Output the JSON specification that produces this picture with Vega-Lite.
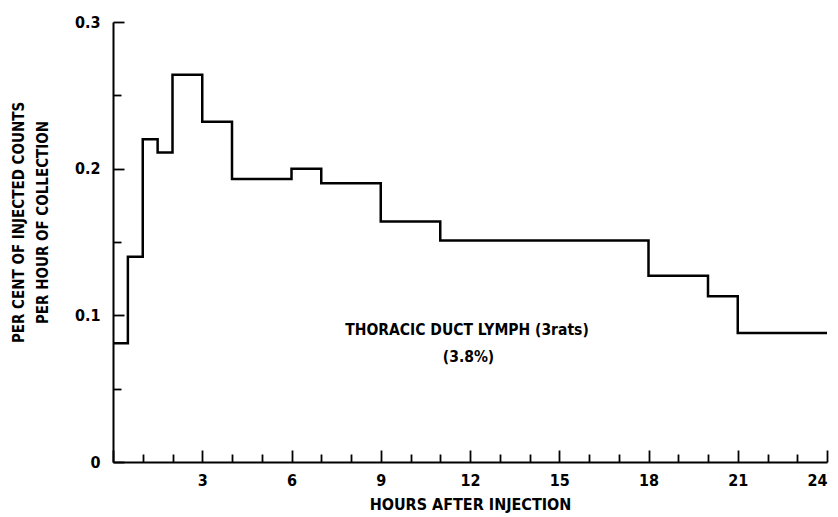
{
  "$schema": "https://vega.github.io/schema/vega-lite/v6.json",
  "width": 714,
  "height": 440,
  "autosize": {"type": "none"},
  "padding": {"left": 113, "top": 22, "right": 11, "bottom": 55},
  "background": "white",
  "config": {
    "view": {"stroke": null},
    "font": "DejaVu Sans Condensed",
    "axis": {"grid": false, "domainColor": "black", "domainWidth": 2, "tickColor": "black", "tickWidth": 1.8, "labelColor": "black", "titleColor": "black", "labelFont": "DejaVu Sans Condensed", "titleFont": "DejaVu Sans Condensed", "labelOverlap": false, "labelBound": false}
  },
  "datasets": {
    "lymph": [
      {"hour": 0, "value": 0.081},
      {"hour": 0.5, "value": 0.14},
      {"hour": 1, "value": 0.22},
      {"hour": 1.5, "value": 0.211},
      {"hour": 2, "value": 0.264},
      {"hour": 3, "value": 0.232},
      {"hour": 4, "value": 0.193},
      {"hour": 6, "value": 0.2},
      {"hour": 7, "value": 0.19},
      {"hour": 9, "value": 0.164},
      {"hour": 11, "value": 0.151},
      {"hour": 18, "value": 0.127},
      {"hour": 20, "value": 0.113},
      {"hour": 21, "value": 0.088},
      {"hour": 24, "value": 0.088}
    ],
    "note": [
      {"label": "THORACIC DUCT LYMPH (3rats)", "hour": 11.9, "value": 0.0902},
      {"label": "(3.8%)", "hour": 11.95, "value": 0.0713}
    ]
  },
  "encoding": {
    "x": {
      "field": "hour", "type": "quantitative",
      "scale": {"domain": [0, 24], "nice": false, "zero": true},
      "axis": {
        "title": "HOURS AFTER INJECTION",
        "values": [0,1,2,3,4,5,6,7,8,9,10,11,12,13,14,15,16,17,18,19,20,21,22,23,24],
        "labelExpr": "(datum.value == 3 || datum.value == 6 || datum.value == 9 || datum.value == 12 || datum.value == 15 || datum.value == 18 || datum.value == 21 || datum.value == 24) ? datum.label : ''",
        "labelOverlap": false,
        "tickSize": {"condition": {"test": "datum.value % 3 === 0", "value": -12}, "value": -8},
        "labelPadding": 22,
        "labelFontSize": 16,
        "labelFontWeight": "bold",
        "titleFontSize": 16,
        "titleFontWeight": "bold",
        "titlePadding": 4
      }
    },
    "y": {
      "field": "value", "type": "quantitative",
      "scale": {"domain": [0, 0.3], "nice": false},
      "axis": {
        "title": ["PER CENT OF INJECTED COUNTS", "PER HOUR OF COLLECTION"],
        "values": [0, 0.05, 0.1, 0.15, 0.2, 0.25, 0.3],
        "format": ".1~f",
        "labelExpr": "round(datum.value * 100) % 10 === 0 ? datum.label : ''",
        "labelOverlap": false,
        "tickSize": {"condition": {"test": "round(datum.value * 100) % 10 === 0", "value": -11}, "value": -8},
        "labelPadding": 24,
        "labelFontSize": 16,
        "labelFontWeight": "bold",
        "titleFontSize": 15,
        "titleFontWeight": "bold",
        "titleLineHeight": 24,
        "titleAngle": -90,
        "titleAlign": "center",
        "titleBaseline": "middle",
        "titleX": -95,
        "titleY": 200
      }
    }
  },
  "layer": [
    {
      "data": {"name": "lymph"},
      "mark": {"type": "line", "interpolate": "step-after", "color": "black", "strokeWidth": 2.5}
    },
    {
      "data": {"name": "note"},
      "mark": {"type": "text", "fontSize": 15.5, "fontWeight": "bold", "font": "DejaVu Sans Condensed", "color": "black", "align": "center", "baseline": "middle"},
      "encoding": {
        "text": {"field": "label"}
      }
    }
  ]
}
